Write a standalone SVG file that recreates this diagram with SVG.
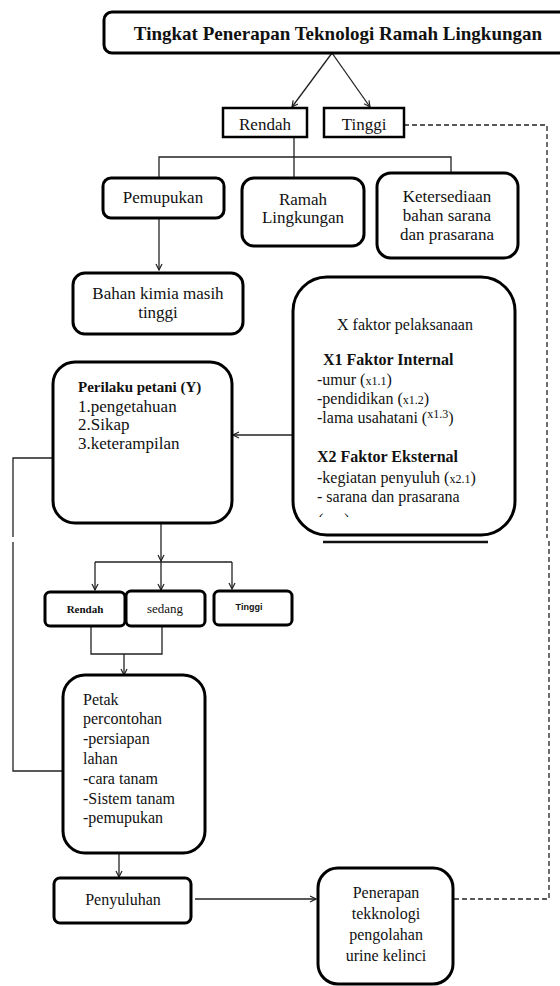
<svg xmlns="http://www.w3.org/2000/svg" width="560" height="986" viewBox="0 0 560 986">
<style>
.box{fill:#fff;stroke:#000;stroke-width:3}
.sq{fill:#fff;stroke:#000;stroke-width:2.5}
.t{font-family:"Liberation Serif","Times New Roman",serif;font-size:17px;fill:#111}
.tm{font-family:"Liberation Serif","Times New Roman",serif;font-size:16px;fill:#111}
.c{text-anchor:middle}
.b{font-weight:bold}
.sub{font-size:12px}
.sm{font-family:"Liberation Serif","Times New Roman",serif;fill:#111;text-anchor:middle}
.ln{fill:none;stroke:#222;stroke-width:1.3}
.ar{fill:none;stroke:#222;stroke-width:1.3;marker-end:url(#arr)}
.dash{fill:none;stroke:#222;stroke-width:1.3;stroke-dasharray:5 3}
</style>
<defs>
<marker id="arr" markerWidth="8" markerHeight="8" refX="7" refY="4" orient="auto" markerUnits="userSpaceOnUse">
<path d="M1,1 L7,4 L1,7" fill="none" stroke="#222" stroke-width="1.2"/>
</marker>
<clipPath id="clipx"><rect x="310" y="508" width="50" height="9"/></clipPath>
</defs>

<g id="connectors">
<line class="ar" x1="332" y1="53" x2="292" y2="107"/>
<line class="ar" x1="332" y1="53" x2="370" y2="107"/>
<path class="ln" d="M294,137 V178 M159,178 V157 H451 V173"/>
<line class="ar" x1="159" y1="218" x2="159" y2="270"/>
<line class="ar" x1="293" y1="435" x2="233" y2="435"/>
<path class="ln" d="M53,458 H13 V537 M13,542 V771 H63"/>
<line class="ar" x1="161" y1="523" x2="161" y2="561"/>
<path class="ln" d="M95,562 H232"/>
<line class="ar" x1="95" y1="562" x2="95" y2="590"/>
<line class="ar" x1="161" y1="561" x2="161" y2="590"/>
<line class="ar" x1="232" y1="562" x2="232" y2="589"/>
<path class="ln" d="M91,626 V654 H162 V626"/>
<line class="ar" x1="124" y1="654" x2="124" y2="675"/>
<line class="ar" x1="119" y1="853" x2="119" y2="877"/>
<line class="ar" x1="195" y1="899" x2="316" y2="899"/>
<path class="dash" d="M404,125 H547 V538 M549,541 V899 H454"/>
</g>

<g id="title">
<rect class="box" x="104" y="12" width="470" height="41" rx="8"/>
<text class="t b c" x="338" y="40" style="font-size:19px">Tingkat Penerapan Teknologi Ramah Lingkungan</text>
</g>

<g id="rendah-top">
<rect class="sq" x="223" y="108" width="84" height="29"/>
<text class="t c" x="265" y="130">Rendah</text>
</g>
<g id="tinggi-top">
<rect class="sq" x="324" y="108" width="80" height="29"/>
<text class="t c" x="364" y="130">Tinggi</text>
</g>

<g id="pemupukan">
<rect class="box" x="103" y="178" width="121" height="40" rx="8"/>
<text class="t c" x="163" y="203">Pemupukan</text>
</g>
<g id="ramah">
<rect class="box" x="242" y="178" width="122" height="68" rx="12"/>
<text class="t c" x="303" y="205">Ramah</text>
<text class="t c" x="303" y="223">Lingkungan</text>
</g>
<g id="ketersediaan">
<rect class="box" x="377" y="173" width="141" height="85" rx="14"/>
<text class="t c" x="447" y="202">Ketersediaan</text>
<text class="t c" x="447" y="221">bahan sarana</text>
<text class="t c" x="447" y="240">dan prasarana</text>
</g>
<g id="bahan-kimia">
<rect class="box" x="73" y="273" width="170" height="61" rx="12"/>
<text class="t c" x="158" y="299">Bahan kimia masih</text>
<text class="t c" x="158" y="318">tinggi</text>
</g>

<g id="x-faktor">
<rect class="box" x="293" y="277" width="222" height="258" rx="34"/>
<line x1="323" y1="542" x2="488" y2="542" stroke="#111" stroke-width="2.5"/>
<text class="tm c" x="405" y="330">X faktor pelaksanaan</text>
<text class="tm b" x="323" y="365">X1 Faktor Internal</text>
<text class="tm" x="317" y="385">-umur (<tspan class="sub">x1.1</tspan>)</text>
<text class="tm" x="317" y="404">-pendidikan (<tspan class="sub">x1.2</tspan>)</text>
<text class="tm" x="317" y="423">-lama usahatani (<tspan class="sub" dy="-5">x1.3</tspan><tspan dy="5">)</tspan></text>
<text class="tm b" x="317" y="462">X2 Faktor Eksternal</text>
<text class="tm" x="317" y="483">-kegiatan penyuluh (<tspan class="sub">x2.1</tspan>)</text>
<text class="tm" x="317" y="502">- sarana dan prasarana</text>
<text class="tm" x="318" y="525" clip-path="url(#clipx)">(<tspan class="sub">x2.2</tspan>)</text>
</g>

<g id="perilaku">
<rect class="box" x="53" y="362" width="179" height="161" rx="22"/>
<text class="tm b" x="78" y="392" style="font-size:15px">Perilaku petani (Y)</text>
<text class="t" x="78" y="412">1.pengetahuan</text>
<text class="t" x="78" y="430">2.Sikap</text>
<text class="t" x="78" y="449">3.keterampilan</text>
</g>

<g id="rendah-row">
<rect class="box" x="45" y="592" width="80" height="34" rx="5"/>
<text class="sm" x="85" y="613" style="font-size:11px;font-weight:bold">Rendah</text>
</g>
<g id="sedang-row">
<rect class="box" x="126" y="591" width="79" height="35" rx="5"/>
<text class="sm" x="165" y="613" style="font-size:13px">sedang</text>
</g>
<g id="tinggi-row">
<rect class="box" x="214" y="591" width="78" height="34" rx="5"/>
<text class="sm" x="249" y="610" style="font-size:9px;font-weight:bold;font-family:'Liberation Sans',Arial,sans-serif">Tinggi</text>
</g>

<g id="petak">
<rect class="box" x="63" y="675" width="142" height="178" rx="22"/>
<text class="tm" x="83" y="705">Petak</text>
<text class="tm" x="83" y="724">percontohan</text>
<text class="tm" x="83" y="744">-persiapan</text>
<text class="tm" x="83" y="764">lahan</text>
<text class="tm" x="83" y="784">-cara tanam</text>
<text class="tm" x="83" y="804">-Sistem tanam</text>
<text class="tm" x="83" y="823">-pemupukan</text>
</g>

<g id="penyuluhan">
<rect class="box" x="54" y="878" width="137" height="45" rx="6"/>
<text class="tm c" x="123" y="905">Penyuluhan</text>
</g>

<g id="penerapan">
<rect class="box" x="318" y="868" width="135" height="116" rx="20"/>
<text class="tm c" x="386" y="898">Penerapan</text>
<text class="tm c" x="386" y="919">tekknologi</text>
<text class="tm c" x="386" y="940">pengolahan</text>
<text class="tm c" x="386" y="961">urine kelinci</text>
</g>
</svg>
